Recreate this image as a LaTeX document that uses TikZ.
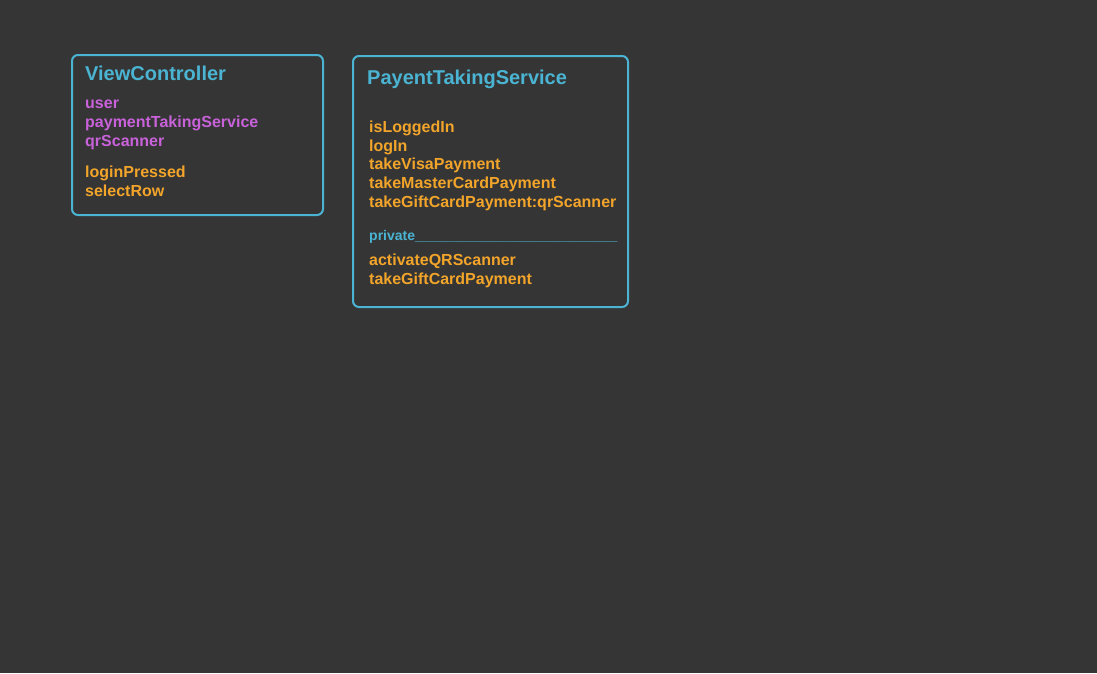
\documentclass[tikz,border=0pt]{standalone}
\usepackage{fontspec}
\setmainfont{Liberation Sans}
\usepackage{tikz}
\usetikzlibrary{positioning}
\definecolor{bgGray}{HTML}{353535}
\definecolor{classBlue}{HTML}{4AB4D2}
\definecolor{propPurple}{HTML}{C962DA}
\definecolor{funcOrange}{HTML}{F2A52A}
\tikzset{
  classbox/.style={draw=classBlue, line width=2pt, rounded corners=6pt, inner sep=0pt},
  classname/.style={anchor=base west, inner sep=0pt, text=classBlue, font=\fontsize{20}{20}\selectfont\bfseries},
  propline/.style={anchor=base west, inner sep=0pt, text=propPurple, font=\fontsize{16}{16}\selectfont\bfseries},
  funcline/.style={anchor=base west, inner sep=0pt, text=funcOrange, font=\fontsize{16}{16}\selectfont\bfseries},
  privline/.style={anchor=base west, inner sep=0pt, text=classBlue, font=\fontsize{14}{14}\selectfont\bfseries}
}
\begin{document}
\begin{tikzpicture}[x=1pt,y=-1pt]
  \fill[bgGray] (0,0) rectangle (1097,673);
  \useasboundingbox (0,0) rectangle (1097,673);

  % ViewController
  \node[classbox, minimum width=251pt, minimum height=160pt] (vc) at (197.5,135) {};
  \node[classname] (vc_t) at (85,80.5) {ViewController};
  \node[propline] (vc_p1) at (85,108.7) {user};
  \node[propline] (vc_p2) at (85,127.7) {paymentTakingService};
  \node[propline] (vc_p3) at (85,146.5) {qrScanner};
  \node[funcline] (vc_f1) at (85,177.7) {loginPressed};
  \node[funcline] (vc_f2) at (85,196.7) {selectRow};

  % PayentTakingService
  \node[classbox, minimum width=275pt, minimum height=251pt] (pts) at (490.5,181.5) {};
  \node[classname] (pts_t) at (367,84.7) {PayentTakingService};
  \foreach \name [count=\i from 0] in {isLoggedIn, logIn, takeVisaPayment, takeMasterCardPayment, takeGiftCardPayment:qrScanner}
    \node[funcline] (pts_f\i) at (369,132.6+18.6*\i) {\name};
  \node[privline] (pts_priv) at (369,240) {private\_\_\_\_\_\_\_\_\_\_\_\_\_\_\_\_\_\_\_\_\_\_\_\_\_\_};
  \node[funcline] (pts_h1) at (369,265.3) {activateQRScanner};
  \node[funcline] (pts_h2) at (369,284) {takeGiftCardPayment};
\end{tikzpicture}
\end{document}
